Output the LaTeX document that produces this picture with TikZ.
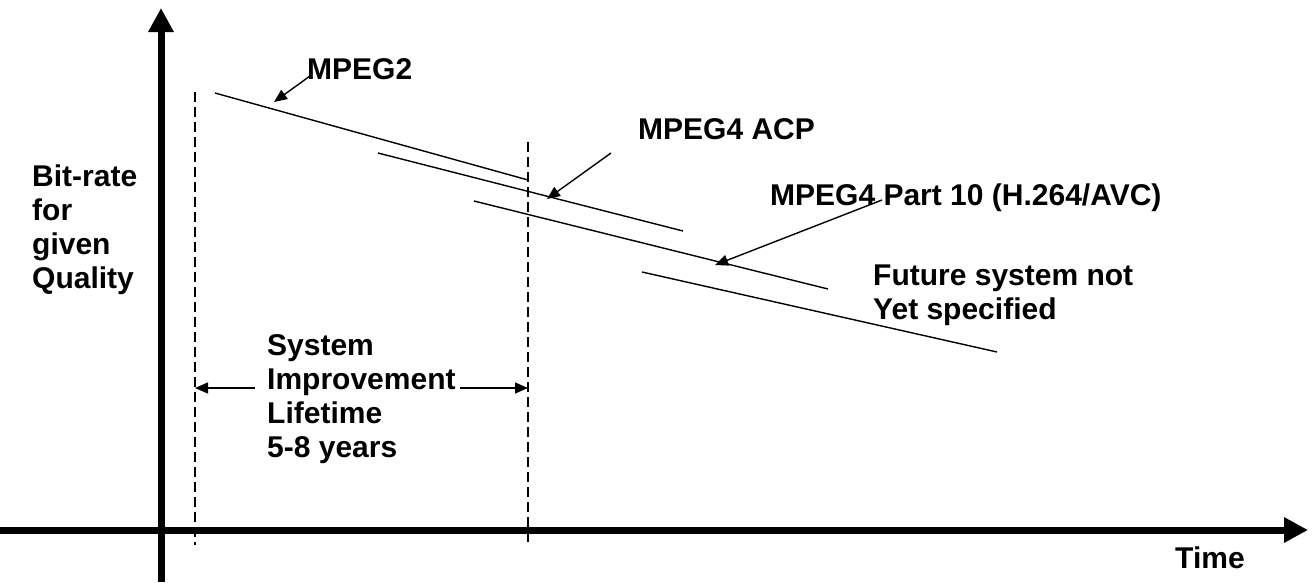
\documentclass[tikz,border=0pt]{standalone}
\usepackage{fontspec}
\setmainfont{Liberation Sans}
\usetikzlibrary{arrows.meta}
\begin{document}
\begin{tikzpicture}[x=1pt,y=-1pt,
  lbl/.style={anchor=base west, inner sep=0pt, align=left, font=\fontsize{30}{34}\selectfont\bfseries},
  axisline/.style={line width=7pt, -{Triangle[length=24pt,width=24pt]}},
  series/.style={line width=1.4pt},
  guide/.style={line width=1.4pt, dash pattern=on 10pt off 5pt},
  pointer/.style={line width=1.4pt, -{Triangle[length=13pt,width=11pt]}}]
\useasboundingbox[fill=white] (0,0) rectangle (1316,582);
% axes
\coordinate (yb) at (161,582); \coordinate (yt) at (161,8);
\coordinate (xl) at (0,530);   \coordinate (xr) at (1308,530);
\draw[axisline] (yb) -- (yt);
\draw[axisline] (xl) -- (xr);
% guides
\coordinate (g1t) at (195,92);  \coordinate (g1b) at (195,545);
\coordinate (g2t) at (528,142); \coordinate (g2b) at (528,545);
\draw[guide] (g1t) -- (g1b);
\draw[guide] (g2t) -- (g2b);
% series lines
\coordinate (m2a) at (215,93);  \coordinate (m2b) at (528,180);
\coordinate (m4a) at (378,153); \coordinate (m4b) at (683,231);
\coordinate (hva) at (474,201); \coordinate (hvb) at (828,289);
\coordinate (fua) at (642,272); \coordinate (fub) at (997,352);
\draw[series] (m2a) -- (m2b);
\draw[series] (m4a) -- (m4b);
\draw[series] (hva) -- (hvb);
\draw[series] (fua) -- (fub);
% labels (multi-line nodes: base = baseline of last line)
\node[lbl] (lq) at (32,288) {Bit-rate\\for\\given\\Quality};
\node[lbl] (l2) at (307,79) {MPEG2};
\node[lbl] (l4) at (638,139) {MPEG4 ACP};
\node[lbl] (lh) at (770,205) {MPEG4 Part 10 (H.264/AVC)};
\node[lbl] (lf) at (873,319) {Future system not\\Yet specified};
\node[lbl] (ls) at (267,457) {System\\Improvement\\Lifetime\\5-8 years};
\node[lbl] (lt) at (1175,568) {Time};
% pointers
\coordinate (p2s) at (310,76);  \coordinate (p2e) at (274,102);
\coordinate (p4s) at (611,153); \coordinate (p4e) at (547,199);
\coordinate (phs) at (882,200); \coordinate (phe) at (715,265);
\draw[pointer] (p2s) -- (p2e);
\draw[pointer] (p4s) -- (p4e);
\draw[pointer] (phs) -- (phe);
% lifetime arrows
\coordinate (dls) at (255,388); \coordinate (dle) at (195,388);
\coordinate (drs) at (460,388); \coordinate (dre) at (528,388);
\draw[pointer] (dls) -- (dle);
\draw[pointer] (drs) -- (dre);
\end{tikzpicture}
\end{document}
